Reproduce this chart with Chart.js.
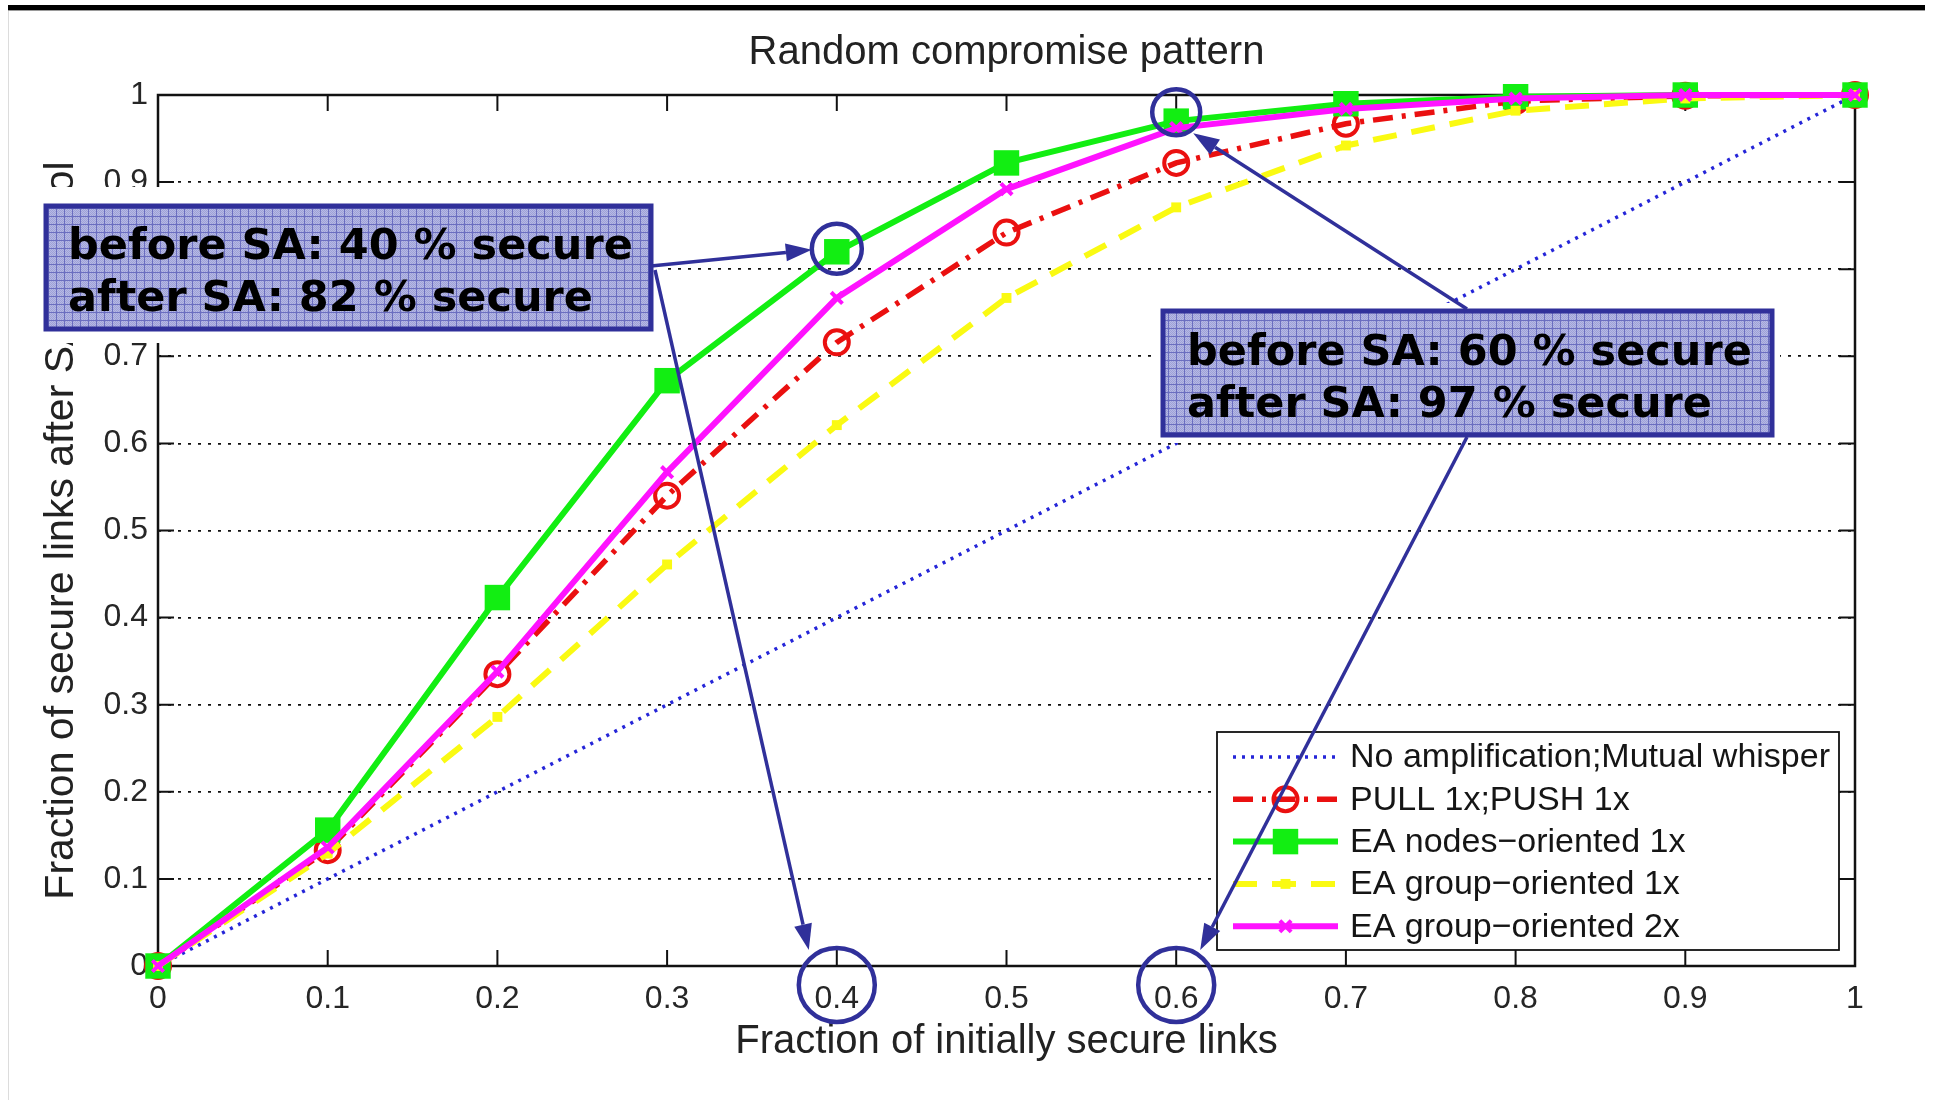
<!DOCTYPE html>
<html>
<head>
<meta charset="utf-8">
<title>Random compromise pattern</title>
<script src="https://cdn.jsdelivr.net/npm/chart.js@4.4.1/dist/chart.umd.min.js"></script>
<style>
  html, body { margin: 0; padding: 0; background: #fff; overflow: hidden; }
  #wrap { position: relative; width: 1933px; height: 1100px; }
  #chart { position: absolute; left: 0; top: 0; }
  .topbar { position: absolute; left: 8px; top: 5px; width: 1917px; height: 5px; background: #000; border-bottom: 1px solid #9a9a9a; }
  .leftrule { position: absolute; left: 8px; top: 11px; width: 1px; height: 1089px; background: #dcdcdc; }
</style>
</head>
<body>
<div id="wrap">
  <canvas id="chart" width="1933" height="1100"></canvas>
  <div class="leftrule"></div>
  <div class="topbar"></div>
</div>
<script>
// fraction of initially secure links (x) and fraction secure after the protocol (y)
const xValues = [0, 0.1, 0.2, 0.3, 0.4, 0.5, 0.6, 0.7, 0.8, 0.9, 1];
const noAmplification = [0, 0.1, 0.2, 0.3, 0.4, 0.5, 0.6, 0.7, 0.8, 0.9, 1];
const pullPush1x = [0, 0.133, 0.335, 0.54, 0.716, 0.842, 0.922, 0.967, 0.993, 0.999, 1];
const eaNodes1x = [0, 0.156, 0.423, 0.672, 0.82, 0.922, 0.97, 0.99, 0.998, 1, 1];
const eaGroup1x = [0, 0.129, 0.286, 0.461, 0.621, 0.767, 0.871, 0.942, 0.982, 0.996, 1];
const eaGroup2x = [0, 0.136, 0.338, 0.567, 0.767, 0.892, 0.962, 0.984, 0.996, 1, 1];

const xTicks = [0, 0.1, 0.2, 0.3, 0.4, 0.5, 0.6, 0.7, 0.8, 0.9, 1];
const yTicks = [0, 0.1, 0.2, 0.3, 0.4, 0.5, 0.6, 0.7, 0.8, 0.9, 1];

const notes = [
  ['before SA: 40 % secure', 'after SA: 82 % secure'],
  ['before SA: 60 % secure', 'after SA: 97 % secure']
];

const AXIS_FONT = '"Liberation Sans", Arial, sans-serif';
const NOTE_FONT = 'bold 43px "DejaVu Sans", Verdana, sans-serif';
const NOTE_BLUE = '#30309a';

function toPoints(ys) {
  return xValues.map((x, i) => ({ x: x, y: ys[i] }));
}

// bluish grid texture used inside the callout boxes
function hatchPattern(ctx) {
  const tile = document.createElement('canvas');
  tile.width = 8; tile.height = 8;
  const t = tile.getContext('2d');
  t.fillStyle = '#b6b9e4';
  t.fillRect(0, 0, 8, 8);
  t.fillStyle = '#9ea1d8';
  for (let i = 0; i < 8; i++) {
    for (let j = 0; j < 8; j++) {
      if ((i + j) % 2 === 0) t.fillRect(i, j, 1, 1);
    }
  }
  t.fillStyle = '#6b6ec0';
  t.fillRect(0, 0, 8, 1);
  t.fillRect(0, 0, 1, 8);
  return ctx.createPattern(tile, 'repeat');
}

function arrow(ctx, x0, y0, x1, y1) {
  const a = Math.atan2(y1 - y0, x1 - x0);
  const head = 26, half = 9;
  const bx = x1 - head * Math.cos(a), by = y1 - head * Math.sin(a);
  ctx.beginPath();
  ctx.moveTo(x0, y0);
  ctx.lineTo(bx, by);
  ctx.stroke();
  ctx.beginPath();
  ctx.moveTo(x1, y1);
  ctx.lineTo(bx + half * Math.sin(a), by - half * Math.cos(a));
  ctx.lineTo(bx - half * Math.sin(a), by + half * Math.cos(a));
  ctx.closePath();
  ctx.fill();
}

function ring(ctx, cx, cy, rx, ry) {
  ctx.beginPath();
  ctx.ellipse(cx, cy, rx, ry, 0, 0, Math.PI * 2);
  ctx.stroke();
}

function drawNote(ctx, box, clear, lines, textX, baselines) {
  ctx.fillStyle = '#fff';
  ctx.fillRect(clear.x, clear.y, clear.w, clear.h);
  ctx.fillStyle = hatchPattern(ctx);
  ctx.fillRect(box.x, box.y, box.w, box.h);
  ctx.strokeStyle = NOTE_BLUE;
  ctx.lineWidth = 5;
  ctx.strokeRect(box.x, box.y, box.w, box.h);
  ctx.fillStyle = '#000';
  ctx.font = NOTE_FONT;
  ctx.textAlign = 'left';
  ctx.textBaseline = 'alphabetic';
  lines.forEach((line, i) => ctx.fillText(line, textX, baselines[i]));
}

// box frame with inward tick marks on all four sides
const framePlugin = {
  id: 'frame',
  beforeDatasetsDraw(chart) {
    const { ctx, chartArea: a, scales } = chart;
    const len = 16;
    ctx.save();
    ctx.strokeStyle = '#111';
    ctx.lineWidth = 2;
    xTicks.forEach(v => {
      const px = scales.x.getPixelForValue(v);
      ctx.beginPath();
      ctx.moveTo(px, a.bottom); ctx.lineTo(px, a.bottom - len);
      ctx.moveTo(px, a.top); ctx.lineTo(px, a.top + len);
      ctx.stroke();
    });
    yTicks.forEach(v => {
      const py = scales.y.getPixelForValue(v);
      ctx.beginPath();
      ctx.moveTo(a.left, py); ctx.lineTo(a.left + len, py);
      ctx.moveTo(a.right, py); ctx.lineTo(a.right - len, py);
      ctx.stroke();
    });
    ctx.lineWidth = 2.5;
    ctx.strokeRect(a.left, a.top, a.right - a.left, a.bottom - a.top);
    ctx.restore();
  }
};

// legend box in the lower right corner of the plot
const legendPlugin = {
  id: 'boxLegend',
  afterDatasetsDraw(chart) {
    const { ctx, chartArea: a } = chart;
    const w = 622, h = 218;
    const left = a.right - 16 - w, top = a.bottom - 16 - h;
    ctx.save();
    ctx.fillStyle = '#fff';
    ctx.fillRect(left, top, w, h);
    ctx.strokeStyle = '#111';
    ctx.lineWidth = 1.8;
    ctx.strokeRect(left, top, w, h);
    ctx.font = '34px ' + AXIS_FONT;
    ctx.textBaseline = 'middle';
    ctx.textAlign = 'left';
    chart.data.datasets.forEach((ds, i) => {
      const y = top + 25 + i * 42.3;
      const x0 = left + 16, x1 = left + 121, xm = (x0 + x1) / 2;
      ctx.strokeStyle = ds.borderColor;
      ctx.lineWidth = ds.borderWidth;
      ctx.setLineDash(ds.borderDash || []);
      ctx.beginPath();
      ctx.moveTo(x0, y); ctx.lineTo(x1, y);
      ctx.stroke();
      ctx.setLineDash([]);
      if (ds.pointRadius > 0) {
        ctx.fillStyle = ds.pointBackgroundColor;
        ctx.strokeStyle = ds.pointBorderColor;
        ctx.lineWidth = ds.pointBorderWidth;
        Chart.helpers.drawPoint(ctx, {
          pointStyle: ds.pointStyle, radius: ds.pointRadius, rotation: 0,
          borderWidth: ds.pointBorderWidth
        }, xm, y);
      }
      ctx.fillStyle = '#151515';
      ctx.fillText(ds.label, left + 133, y + 1);
    });
    ctx.restore();
  }
};

// callout boxes, rings and arrows
const notesPlugin = {
  id: 'notes',
  afterDraw(chart) {
    const { ctx, scales } = chart;
    const xs = scales.x, ys = scales.y;
    const x04 = xs.getPixelForValue(0.4), x06 = xs.getPixelForValue(0.6);
    const y04 = ys.getPixelForValue(eaNodes1x[4]);
    const y06 = ys.getPixelForValue(eaNodes1x[6]);
    const labelY = ys.bottom + 19;
    ctx.save();

    drawNote(ctx, { x: 46, y: 206, w: 605, h: 123 }, { x: 0, y: 187, w: 662, h: 156 },
      notes[0], 68, [259, 311]);
    drawNote(ctx, { x: 1163, y: 311, w: 609, h: 124 }, { x: 1155, y: 303, w: 625, h: 140 },
      notes[1], 1187, [365, 417]);

    ctx.strokeStyle = NOTE_BLUE;
    ctx.fillStyle = NOTE_BLUE;
    ctx.lineWidth = 4.5;
    ring(ctx, x04, y04 - 3, 25, 25);
    ring(ctx, x04, labelY, 38, 37);
    ring(ctx, x06, labelY, 38, 37);
    ring(ctx, x06, y06 - 9, 24, 23);

    ctx.lineWidth = 3.5;
    arrow(ctx, 651, 266, x04 - 25, y04 - 2);
    arrow(ctx, 655, 270, x04 - 28, labelY - 35);
    arrow(ctx, 1467, 309, x06 + 17, y06 + 12);
    arrow(ctx, 1467, 437, x06 + 24, labelY - 35);
    ctx.restore();
  }
};

Chart.defaults.font.family = AXIS_FONT;

new Chart(document.getElementById('chart'), {
  type: 'line',
  data: {
    datasets: [
      {
        label: 'No amplification;Mutual whisper',
        data: toPoints(noAmplification),
        borderColor: '#2525d8', borderWidth: 3.5, borderDash: [3, 6],
        pointRadius: 0, order: 5
      },
      {
        label: 'PULL 1x;PUSH 1x',
        data: toPoints(pullPush1x),
        borderColor: '#ea1010', borderWidth: 5.5, borderDash: [20, 9, 4, 9],
        pointStyle: 'circle', pointRadius: 12, pointBorderWidth: 4,
        pointBorderColor: '#ea1010', pointBackgroundColor: 'rgba(255,255,255,0)',
        order: 4
      },
      {
        label: 'EA nodes\u2212oriented 1x',
        data: toPoints(eaNodes1x),
        borderColor: '#12ee12', borderWidth: 6,
        pointStyle: 'rect', pointRadius: 18, pointBorderWidth: 0,
        pointBorderColor: '#12ee12', pointBackgroundColor: '#12ee12',
        order: 3
      },
      {
        label: 'EA group\u2212oriented 1x',
        data: toPoints(eaGroup1x),
        borderColor: '#fafa12', borderWidth: 6, borderDash: [24, 15],
        pointStyle: 'rect', pointRadius: 7, pointBorderWidth: 0,
        pointBorderColor: '#fafa12', pointBackgroundColor: '#fafa12',
        order: 2
      },
      {
        label: 'EA group\u2212oriented 2x',
        data: toPoints(eaGroup2x),
        borderColor: '#ff12ff', borderWidth: 6,
        pointStyle: 'crossRot', pointRadius: 8, pointBorderWidth: 4,
        pointBorderColor: '#ff12ff', pointBackgroundColor: '#ff12ff',
        order: 1
      }
    ]
  },
  options: {
    responsive: false,
    animation: false,
    layout: { padding: { left: 0, right: 78, top: 0, bottom: 0 } },
    elements: { line: { tension: 0 } },
    datasets: { line: { clip: false } },
    plugins: {
      legend: { display: false },
      tooltip: { enabled: false },
      title: {
        display: true,
        fullSize: false,
        text: 'Random compromise pattern',
        color: '#222',
        font: { size: 40, weight: 'normal' },
        padding: { top: 29, bottom: 18 }
      }
    },
    scales: {
      x: {
        type: 'linear', min: 0, max: 1,
        afterBuildTicks: s => { s.ticks = xTicks.map(v => ({ value: v })); },
        afterFit: s => { s.height = 134; },
        ticks: { color: '#262626', font: { size: 32 }, padding: 14, maxRotation: 0, callback: v => String(v) },
        grid: { display: false, drawTicks: false },
        border: { display: false },
        title: {
          display: true, text: 'Fraction of initially secure links',
          color: '#222', font: { size: 40 }, padding: { top: 0, bottom: 34 }
        }
      },
      y: {
        type: 'linear', min: 0, max: 1,
        afterBuildTicks: s => { s.ticks = yTicks.map(v => ({ value: v })); },
        afterFit: s => { s.width = 158; },
        ticks: { color: '#262626', font: { size: 32 }, padding: 10, callback: v => String(v) },
        grid: { color: '#111', lineWidth: 1.8, drawTicks: false },
        border: { display: false, dash: [3, 7] },
        title: {
          display: true, text: 'Fraction of secure links after SA protocol',
          color: '#222', font: { size: 41 }, padding: { top: 37, bottom: 0 }
        }
      }
    }
  },
  plugins: [framePlugin, legendPlugin, notesPlugin]
});
</script>
</body>
</html>
